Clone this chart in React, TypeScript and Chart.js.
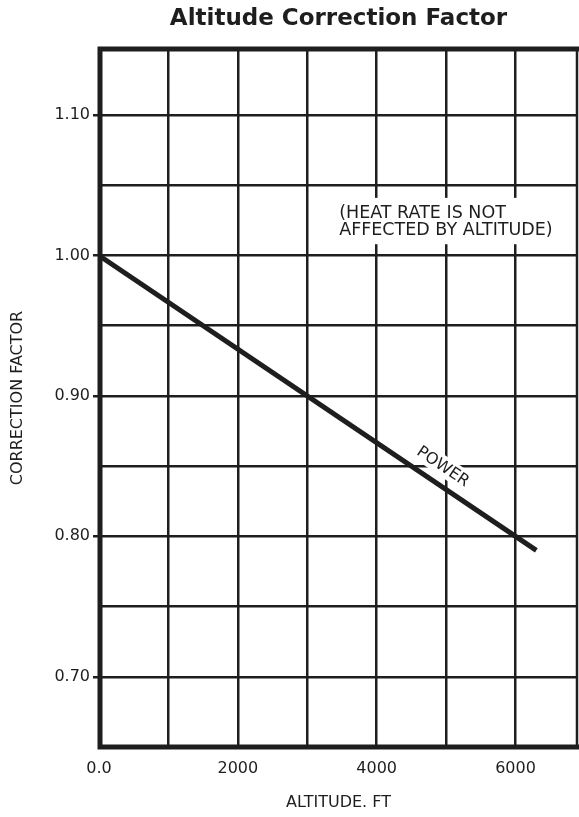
import React, { useEffect, useRef } from 'react';
import { Chart, registerables } from 'chart.js';

Chart.register(...registerables);

// ---- data ----
const altitudeFt = [0, 6300];
const powerFactor = [1.0, 0.79];

const xGridValues = [0, 1000, 2000, 3000, 4000, 5000, 6000];
const xLabeledValues = [0, 2000, 4000, 6000];
const xTickText = ['0.0', '2000', '4000', '6000'];

const yGridValues = [0.7, 0.75, 0.8, 0.85, 0.9, 0.95, 1.0, 1.05, 1.1];
const yLabeledValues = [0.7, 0.8, 0.9, 1.0, 1.1];
const yTickText = ['0.70', '0.80', '0.90', '1.00', '1.10'];

const chartTitle = 'Altitude Correction Factor';
const xTitle = 'ALTITUDE. FT';
const yTitle = 'CORRECTION FACTOR';
const noteLines = ['(HEAT RATE IS NOT', 'AFFECTED BY ALTITUDE)'];
const curveLabel = 'POWER';

const INK = '#1e1e1e';
const FAMILY = '"DejaVu Sans", "Liberation Sans", sans-serif';

const findLabel = (vals: number[], texts: string[], v: number) => {
  const i = vals.findIndex((a) => Math.abs(a - v) < 1e-6);
  return i >= 0 ? texts[i] : '';
};

const decorPlugin = {
  id: 'decor',
  beforeDatasetsDraw(chart: any) {
    const { ctx, scales } = chart;
    const x = scales.x;
    const y = scales.y;
    ctx.save();
    // note box (white background cutting the grid)
    const bx1 = x.getPixelForValue(3400);
    const bx2 = x.getPixelForValue(6650);
    const by1 = y.getPixelForValue(1.041);
    const by2 = y.getPixelForValue(1.008);
    ctx.fillStyle = '#ffffff';
    ctx.fillRect(bx1, by1, bx2 - bx1, by2 - by1);
    ctx.fillStyle = INK;
    ctx.font = `17.5px ${FAMILY}`;
    ctx.textAlign = 'left';
    ctx.textBaseline = 'middle';
    ctx.fillText(noteLines[0], x.getPixelForValue(3460), y.getPixelForValue(1.0296));
    ctx.fillText(noteLines[1], x.getPixelForValue(3460), y.getPixelForValue(1.0178));

    // curve label, rotated along the line
    const p0x = x.getPixelForValue(altitudeFt[0]);
    const p0y = y.getPixelForValue(powerFactor[0]);
    const p1x = x.getPixelForValue(altitudeFt[altitudeFt.length - 1]);
    const p1y = y.getPixelForValue(powerFactor[powerFactor.length - 1]);
    const ang = Math.atan2(p1y - p0y, p1x - p0x);
    ctx.translate(x.getPixelForValue(4960), y.getPixelForValue(0.85));
    ctx.rotate(ang);
    ctx.font = `16px ${FAMILY}`;
    const w = ctx.measureText(curveLabel).width;
    ctx.fillStyle = '#ffffff';
    ctx.fillRect(-w / 2 - 4, -10, w + 8, 20);
    ctx.fillStyle = INK;
    ctx.textAlign = 'center';
    ctx.fillText(curveLabel, 0, 1);
    ctx.restore();
  },
  afterDraw(chart: any) {
    const { ctx, chartArea } = chart;
    const { left, right, top, bottom } = chartArea;
    ctx.save();
    ctx.strokeStyle = INK;
    ctx.lineCap = 'square';
    ctx.lineWidth = 5;
    ctx.beginPath();
    ctx.moveTo(left + 1, bottom);
    ctx.lineTo(left + 1, top);
    ctx.lineTo(right, top);
    ctx.moveTo(left + 1, bottom);
    ctx.lineTo(right, bottom);
    ctx.stroke();
    ctx.lineWidth = 2.5;
    ctx.beginPath();
    ctx.moveTo(right - 1, top);
    ctx.lineTo(right - 1, bottom);
    ctx.stroke();
    ctx.restore();
  },
};

export default function App() {
  const ref = useRef<HTMLCanvasElement | null>(null);

  useEffect(() => {
    if (!ref.current) return;
    Chart.defaults.font.family = FAMILY;
    const chart = new Chart(ref.current, {
      type: 'line',
      data: {
        datasets: [
          {
            label: curveLabel,
            data: altitudeFt.map((a, i) => ({ x: a, y: powerFactor[i] })),
            borderColor: INK,
            borderWidth: 5,
            pointRadius: 0,
            tension: 0,
            fill: false,
          },
        ],
      },
      options: {
        responsive: false,
        animation: false,
        devicePixelRatio: 1,
        events: [],
        layout: { padding: { left: 0, right: 1, top: 0, bottom: 0 } },
        plugins: {
          legend: { display: false },
          tooltip: { enabled: false },
          title: {
            display: true,
            fullSize: false,
            text: chartTitle,
            color: INK,
            font: { family: FAMILY, size: 23, weight: 'bold', lineHeight: 1.2 },
            padding: { top: 5, bottom: 16.4 },
          },
        },
        scales: {
          x: {
            type: 'linear',
            min: 0,
            max: 6900,
            afterBuildTicks: (s: any) => {
              s.ticks = xGridValues.map((v) => ({ value: v }));
            },
            afterFit: (s: any) => {
              s.height = 70;
            },
            border: { display: false },
            grid: { color: INK, lineWidth: 2.5, drawTicks: false },
            ticks: {
              autoSkip: false,
              maxRotation: 0,
              padding: 12,
              color: INK,
              font: { family: FAMILY, size: 16 },
              callback: (v: any) => findLabel(xLabeledValues, xTickText, Number(v)),
            },
            title: {
              display: true,
              text: xTitle,
              color: INK,
              font: { family: FAMILY, size: 16 },
              padding: { top: 0, bottom: 5 },
            },
          },
          y: {
            type: 'linear',
            min: 0.65,
            max: 1.147,
            afterBuildTicks: (s: any) => {
              s.ticks = yGridValues.map((v) => ({ value: v }));
            },
            afterFit: (s: any) => {
              s.width = 99;
            },
            border: { display: false },
            grid: {
              color: INK,
              lineWidth: 2.5,
              drawTicks: true,
              tickLength: 6,
              tickColor: (c: any) =>
                c.tick && findLabel(yLabeledValues, yTickText, c.tick.value) !== '' ? INK : 'rgba(0,0,0,0)',
            },
            ticks: {
              autoSkip: false,
              padding: 3,
              color: INK,
              font: { family: FAMILY, size: 16 },
              callback: (v: any) => findLabel(yLabeledValues, yTickText, Number(v)),
            },
            title: {
              display: true,
              text: yTitle,
              color: INK,
              font: { family: FAMILY, size: 16 },
              padding: { top: 8, bottom: 0 },
            },
          },
        },
      },
      plugins: [decorPlugin],
    } as any);
    return () => chart.destroy();
  }, []);

  return (
    <div style={{ position: 'absolute', left: 0, top: 0, width: 579, height: 817, background: '#fff' }}>
      <canvas ref={ref} width={579} height={817} style={{ display: 'block' }} />
    </div>
  );
}
